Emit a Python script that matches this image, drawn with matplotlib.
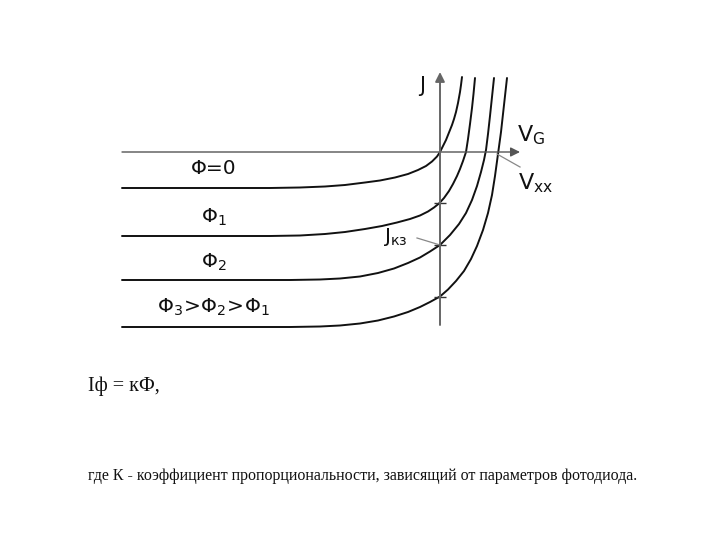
import matplotlib
matplotlib.use("Agg")
import matplotlib.pyplot as plt

plt.rcParams['font.family'] = ['DejaVu Sans']
plt.rcParams['mathtext.fontset'] = 'dejavusans'

# curves (V to the right, J up, origin at axis crossing)
v_phi0 = [-318, -170, -140, -115, -95, -75, -60, -45, -32, -22, -14, -8, -3, 0,
          2, 4, 6, 8, 10, 12, 14, 16, 18, 20, 21, 22]
j_phi0 = [-36, -36, -35.5, -34.5, -33, -30.5, -28.5, -25.5, -22, -18, -14, -9.5, -4.5, 0,
          4, 8, 12, 17, 22, 27, 33, 40, 49, 60, 67, 75]

v_phi1 = [-318, -170, -140, -115, -95, -75, -58, -43, -30, -20, -12, -6, -1, 4, 9, 13,
          17, 20, 23, 26, 28, 30, 32, 33.5, 35]
j_phi1 = [-84, -84, -83.5, -82, -80, -77, -74, -70.5, -67, -63.5, -59.5, -55.5, -51.5, -46, -39, -32,
          -24, -17, -9, 0, 13, 28, 44, 58, 74]

v_phi2 = [-318, -150, -120, -100, -80, -62, -46, -32, -20, -10, 0, 10, 19, 26, 32, 37,
          41, 44, 46, 48, 50, 52, 54]
j_phi2 = [-128, -128, -127.5, -126.5, -124.5, -121, -116.5, -111, -105.5, -99.5, -93, -83, -72, -61, -48, -34,
          -20, -8, 2, 18, 36, 55, 74]

v_phi3 = [-318, -150, -120, -100, -80, -62, -46, -32, -20, -10, 0, 8, 16, 24, 31, 37,
          43, 48, 52, 55, 58, 61, 63, 65, 67]
j_phi3 = [-175, -175, -174.5, -173.5, -171.5, -168.5, -164.5, -160, -155, -150, -144.5, -137.5, -129, -119, -107, -94,
          -78, -61, -43, -24, -2, 20, 38, 56, 74]

# short-circuit currents (ticks on the J axis) and open-circuit voltage
j_sc = [-51, -93, -145]
v_oc = 57

curve_labels = ['Φ=0', r'$\Phi_1$', r'$\Phi_2$', r'$\Phi_3\!>\!\Phi_2\!>\!\Phi_1$']
label_j = [-17, -65, -110, -155]

fig = plt.figure(figsize=(7.2, 5.4), dpi=100)
ax = fig.add_axes([0, 0, 1, 1])
ax.set_xlim(-440, 280)
ax.set_ylim(-388, 152)
ax.axis('off')

# axes with arrows
ax.annotate('', xy=(80, 0), xytext=(-318, 0),
            arrowprops=dict(arrowstyle='-|>', color='#555555', lw=1.0,
                            mutation_scale=14, shrinkA=0, shrinkB=0))
ax.annotate('', xy=(0, 80), xytext=(0, -173),
            arrowprops=dict(arrowstyle='-|>', color='#666666', lw=1.4,
                            mutation_scale=14, shrinkA=0, shrinkB=0))

for v, j in [(v_phi0, j_phi0), (v_phi1, j_phi1), (v_phi2, j_phi2), (v_phi3, j_phi3)]:
    ax.plot(v, j, color='#111111', lw=1.4, solid_capstyle='round', solid_joinstyle='round')

ax.plot([0] * len(j_sc), j_sc, ls='none', marker='_', ms=9, mew=1.0, color='#333333')

for lab, jj in zip(curve_labels, label_j):
    ax.text(-226, jj, lab, fontsize=14.5, ha='center', va='center', color='#111111')

ax.text(-18, 66, 'J', fontsize=15, ha='center', va='center', color='#111111')
ax.text(77, 17, r'$\mathrm{V_G}$', fontsize=16, ha='left', va='center', color='#111111')
ax.text(78, -31, r'$\mathrm{V_{xx}}$', fontsize=16, ha='left', va='center', color='#111111')
ax.text(-57, -85, r'$\mathrm{J_{кз}}$', fontsize=14.5, ha='left', va='center', color='#111111')

# pointer lines
ax.plot([80, v_oc], [-15, -2], color='#888888', lw=0.9)
ax.plot([-23, 0], [-86, j_sc[1]], color='#888888', lw=0.9)

ax.text(-352, -234, 'Iф = кФ,', fontsize=14.5, family='Liberation Serif',
        ha='left', va='center', color='#111111')
ax.text(-352, -324, 'где К - коэффициент пропорциональности, зависящий от параметров фотодиода.',
        fontsize=11.5, family='Liberation Serif', ha='left', va='center', color='#111111')

fig.savefig('out.png', dpi=100)
